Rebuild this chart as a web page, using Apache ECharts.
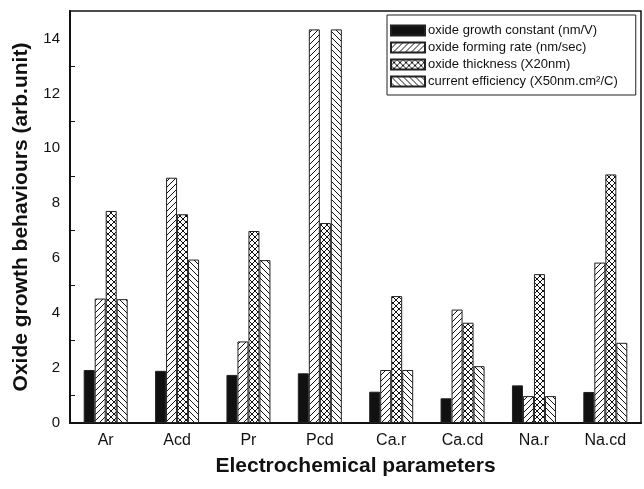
<!DOCTYPE html>
<html>
<head>
<meta charset="utf-8">
<script src="https://cdn.jsdelivr.net/npm/echarts@6/dist/echarts.min.js"></script>
<style>
  html, body { margin: 0; padding: 0; background: #fff; }
  #chart { width: 644px; height: 489px; }
</style>
</head>
<body>
<div id="chart"></div>
<script>
// Electrochemical process categories
const categories = ['Ar', 'Acd', 'Pr', 'Pcd', 'Ca.r', 'Ca.cd', 'Na.r', 'Na.cd'];

// Oxide growth behaviour values (arb. unit)
const growthConstant = [1.93, 1.90, 1.75, 1.81, 1.14, 0.90, 1.37, 1.13];
const formingRate    = [4.53, 8.93, 2.97, 14.33, 1.93, 4.13, 0.98, 5.84];
const thickness      = [7.72, 7.60, 6.99, 7.28, 4.62, 3.65, 5.42, 9.05];
const efficiency     = [4.51, 5.95, 5.93, 14.33, 1.93, 2.07, 0.98, 2.92];

const seriesNames = [
  'oxide growth constant (nm/V)',
  'oxide forming rate (nm/sec)',
  'oxide thickness (X20nm)',
  'current efficiency (X50nm.cm\u00B2/C)'
];

const FONT = '"Liberation Sans", Arial, sans-serif';

// Build a small tileable hatch pattern on a canvas
function hatch(kind) {
  const s = 6;
  const c = document.createElement('canvas');
  c.width = s; c.height = s;
  const g = c.getContext('2d');
  g.fillStyle = '#fff';
  g.fillRect(0, 0, s, s);
  g.strokeStyle = '#111';
  g.lineWidth = 1;
  const fwd = () => {
    g.beginPath();
    g.moveTo(-1, s + 1); g.lineTo(s + 1, -1);
    g.moveTo(-1, 1); g.lineTo(1, -1);
    g.moveTo(s - 1, s + 1); g.lineTo(s + 1, s - 1);
    g.stroke();
  };
  const back = () => {
    g.beginPath();
    g.moveTo(-1, -1); g.lineTo(s + 1, s + 1);
    g.moveTo(s - 1, -1); g.lineTo(s + 1, 1);
    g.moveTo(-1, s - 1); g.lineTo(1, s + 1);
    g.stroke();
  };
  if (kind === 'fwd') fwd();
  if (kind === 'back') back();
  if (kind === 'cross') { fwd(); back(); }
  return { image: c, repeat: 'repeat' };
}

const fills = ['#111', hatch('fwd'), hatch('cross'), hatch('back')];
const values = [growthConstant, formingRate, thickness, efficiency];

const chart = echarts.init(document.getElementById('chart'), null, { renderer: 'canvas' });

chart.setOption({
  animation: false,
  backgroundColor: '#fff',
  textStyle: { fontFamily: FONT },
  grid: {
    left: 70, right: 3, top: 11, bottom: 66,
    show: true, borderColor: '#111', borderWidth: 1.5, backgroundColor: 'transparent'
  },
  legend: {
    orient: 'vertical',
    left: 387, top: 15,
    itemWidth: 34, itemHeight: 10, itemGap: 4,
    padding: [9, 18, 7, 3],
    borderColor: '#222', borderWidth: 1,
    backgroundColor: '#fff',
    icon: 'rect',
    textStyle: { fontSize: 13, color: '#111', fontFamily: FONT, padding: [0, 0, 0, -2] },
    data: seriesNames
  },
  xAxis: {
    type: 'category',
    data: categories,
    boundaryGap: true,
    name: 'Electrochemical parameters',
    nameLocation: 'middle',
    nameGap: 33,
    nameTextStyle: { fontSize: 21, fontWeight: 'bold', color: '#111', fontFamily: FONT },
    axisLine: { lineStyle: { color: '#111', width: 2 } },
    axisTick: { inside: true, length: 4, lineStyle: { color: '#111' } },
    axisLabel: { fontSize: 16, color: '#111', margin: 10, fontFamily: FONT },
    splitLine: { show: false }
  },
  yAxis: {
    type: 'value',
    min: 0, max: 15, interval: 2,
    name: 'Oxide growth behaviours (arb.unit)',
    nameLocation: 'middle',
    nameGap: 38,
    nameTextStyle: { fontSize: 21, fontWeight: 'bold', color: '#111', fontFamily: FONT },
    axisLine: { show: true, lineStyle: { color: '#111', width: 2 } },
    axisTick: { inside: true, length: 9, lineStyle: { color: '#111', width: 1.2 } },
    minorTick: { show: true, splitNumber: 2, length: 5, lineStyle: { color: '#111' } },
    axisLabel: { fontSize: 15, color: '#111', margin: 10, showMaxLabel: false, fontFamily: FONT },
    splitLine: { show: false }
  },
  series: seriesNames.map((name, i) => ({
    name,
    type: 'bar',
    data: values[i],
    barWidth: 11,
    barGap: '0%',
    itemStyle: { color: fills[i], borderColor: '#222', borderWidth: 1 }
  }))
});
</script>
</body>
</html>
